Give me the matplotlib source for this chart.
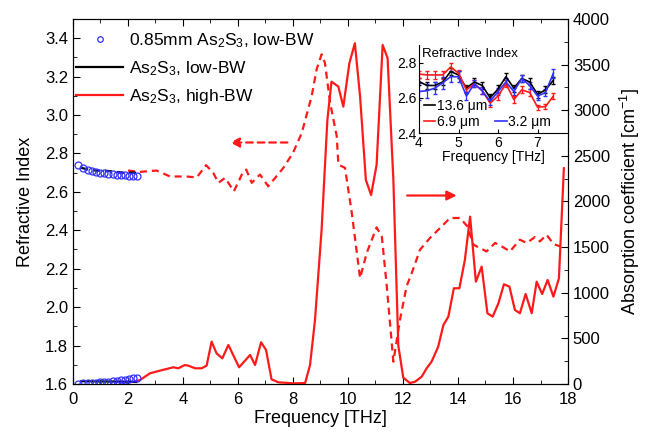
import numpy as np
import matplotlib.pyplot as plt
from matplotlib.lines import Line2D

plt.rcParams['font.family'] = ['Liberation Sans', 'DejaVu Sans']
plt.rcParams['mathtext.fontset'] = 'custom'
plt.rcParams['mathtext.rm'] = 'Liberation Sans'
plt.rcParams['mathtext.it'] = 'Liberation Sans:italic'

# 0.85 mm As2S3, low-BW (circles)
f_circ = [0.19, 0.37, 0.53, 0.68, 0.84, 0.98, 1.14, 1.28, 1.44, 1.59, 1.75, 1.89, 2.05, 2.19, 2.34]
n_circ = [2.74, 2.725, 2.715, 2.71, 2.705, 2.70, 2.70, 2.695, 2.695, 2.69, 2.69, 2.69, 2.685, 2.685, 2.685]
a_circ = [5, 8, 10, 13, 16, 19, 22, 26, 30, 35, 40, 47, 55, 62, 68]

# As2S3 low-BW (black)
f_low = [0.3, 0.6, 0.9, 1.2, 1.5, 1.8, 2.1, 2.3]
n_low = [2.725, 2.715, 2.71, 2.71, 2.705, 2.70, 2.70, 2.70]
a_low = [30, 30, 28, 27, 27, 26, 24, 22]

# As2S3 high-BW refractive index (red dashed)
f_nh = [2.0, 2.44, 3.04, 3.53, 4.13, 4.5, 4.84, 5.1, 5.29, 5.53, 5.85, 6.17, 6.3, 6.5, 6.8,
        7.1, 7.65, 8.0, 8.32, 8.68, 8.86, 9.04, 9.16, 9.35, 9.59, 9.65, 9.89, 10.13, 10.44,
        10.68, 11.04, 11.23, 11.4, 11.65, 11.89, 12.13, 12.32, 12.62, 12.98, 13.35, 13.71,
        14.07, 14.34, 14.56, 15.04, 15.35, 15.59, 15.89, 16.25, 16.5, 16.8, 16.98, 17.22,
        17.47, 17.71]
n_nh = [2.711, 2.704, 2.711, 2.68, 2.68, 2.675, 2.739, 2.699, 2.647, 2.673, 2.603, 2.699, 2.716,
        2.647, 2.69, 2.629, 2.725, 2.803, 2.907, 3.099, 3.238, 3.316, 3.272, 3.064, 2.89, 2.742,
        2.725, 2.499, 2.151, 2.282, 2.415, 2.368, 2.125, 1.716, 1.934, 2.108, 2.178, 2.299, 2.36,
        2.412, 2.464, 2.464, 2.421, 2.325, 2.29, 2.334, 2.316, 2.29, 2.351, 2.334, 2.365, 2.342,
        2.377, 2.329, 2.316]

# As2S3 high-BW absorption (red solid)
f_ah = [2.3, 2.44, 2.8, 3.16, 3.65, 3.83, 4.07, 4.2, 4.44, 4.68, 4.86, 5.04, 5.22, 5.43, 5.65,
        6.04, 6.44, 6.62, 6.84, 7.02, 7.22, 7.47, 8.01, 8.44, 8.62, 8.8, 9.04, 9.25, 9.4, 9.65,
        9.83, 10.05, 10.25, 10.44, 10.65, 10.84, 11.04, 11.26, 11.44, 11.65, 11.83, 12.01,
        12.25, 12.44, 12.68, 12.86, 13.04, 13.28, 13.47, 13.65, 13.85, 14.05, 14.25, 14.44,
        14.65, 14.86, 15.07, 15.26, 15.47, 15.67, 15.87, 16.07, 16.25, 16.46, 16.68, 16.86,
        17.06, 17.26, 17.47, 17.67, 17.85]
a_ah = [30, 44, 117, 146, 183, 172, 208, 200, 172, 172, 201, 464, 336, 281, 427,
        183, 318, 208, 457, 373, 51, 18, 7, 10, 208, 701, 1688, 2893, 3313, 3259,
        3039, 3515, 3734, 3149, 2236, 2071, 2400, 3715, 3570, 2236, 420, 70,
        10, 25, 80, 172, 245, 409, 647, 738, 1049, 1049, 1359, 1834,
        1121, 1286, 775, 738, 884, 1093, 1067, 811, 775, 986, 775, 1121,
        986, 1140, 957, 1158, 2364]

# inset: refractive index for three thicknesses
f_in = [4.0, 4.2, 4.4, 4.6, 4.8, 5.0, 5.2, 5.4, 5.6, 5.8, 6.0, 6.2, 6.4, 6.6, 6.8, 7.0, 7.2, 7.4]
n_136 = [2.693, 2.67, 2.67, 2.69, 2.75, 2.73, 2.655, 2.69, 2.67, 2.60, 2.65, 2.72, 2.655, 2.71,
         2.69, 2.62, 2.645, 2.70]
e_136 = [0.02, 0.02, 0.02, 0.02, 0.02, 0.02, 0.02, 0.02, 0.02, 0.02, 0.02, 0.02, 0.02, 0.02,
         0.02, 0.02, 0.02, 0.02]
n_69 = [2.735, 2.73, 2.73, 2.73, 2.775, 2.74, 2.645, 2.68, 2.64, 2.57, 2.61, 2.68, 2.59, 2.645,
        2.63, 2.547, 2.55, 2.61]
e_69 = [0.02, 0.025, 0.025, 0.025, 0.025, 0.02, 0.02, 0.02, 0.02, 0.02, 0.02, 0.02, 0.02, 0.02,
        0.02, 0.015, 0.015, 0.015]
n_32 = [2.636, 2.64, 2.655, 2.685, 2.72, 2.72, 2.61, 2.68, 2.64, 2.58, 2.636, 2.69, 2.636, 2.71,
        2.67, 2.61, 2.63, 2.74]
e_32 = [0.05, 0.04, 0.035, 0.035, 0.03, 0.03, 0.025, 0.02, 0.02, 0.02, 0.02, 0.02, 0.02, 0.02,
        0.02, 0.02, 0.02, 0.025]

fig = plt.figure(figsize=(6.47, 4.41), dpi=100)
ax = fig.add_axes([0.1128, 0.1293, 0.7651, 0.8277])
ax2 = ax.twinx()

red = '#ff1a1a'
blue = '#3030ff'

# refractive index (left axis)
ax.plot(f_nh, n_nh, color=red, lw=1.6, dashes=(3.2, 2.2))
ax.plot(f_low, n_low, color='black', lw=1.6, dashes=(3.2, 2.2))
ax.plot(f_circ, n_circ, 'o', mfc='none', mec=blue, ms=5, mew=0.9)

# absorption (right axis)
ax2.plot(f_ah, a_ah, color=red, lw=1.6)
ax2.plot(f_low, a_low, color='black', lw=1.6)
ax2.plot(f_circ, a_circ, 'o', mfc='none', mec=blue, ms=5, mew=0.9)

ax.set_xlim(0, 18)
ax.set_ylim(1.6, 3.5)
ax2.set_ylim(0, 4000)
ax.set_xticks(np.arange(0, 19, 2))
ax.set_xticks(np.arange(0, 19, 1), minor=True)
ax.set_yticks(np.arange(1.6, 3.41, 0.2))
ax.set_yticks(np.arange(1.6, 3.51, 0.1), minor=True)
ax.set_yticklabels(['%.1f' % v for v in np.arange(1.6, 3.41, 0.2)])
ax2.set_yticks(np.arange(0, 4001, 500))
ax2.set_yticks(np.arange(0, 4001, 250), minor=True)

ax.tick_params(which='both', direction='in', top=True, labelsize=12)
ax.tick_params(which='major', length=5)
ax.tick_params(which='minor', length=3)
ax.tick_params(axis='x', pad=6)
ax2.tick_params(which='both', direction='in', labelsize=12)
ax2.tick_params(which='major', length=5)
ax2.tick_params(which='minor', length=3)

ax.set_xlabel('Frequency [THz]', fontsize=13, labelpad=2)
ax.set_ylabel('Refractive Index', fontsize=13, labelpad=8)
ax2.set_ylabel('Absorption coefficient [cm$^{-1}$]', fontsize=13, labelpad=6)

# direction arrows
ax.annotate('', xy=(5.6, 2.857), xytext=(7.9, 2.857),
            arrowprops=dict(arrowstyle='-|>', color=red, lw=1.6, linestyle=(0, (3, 2.2)),
                            mutation_scale=14))
ax.annotate('', xy=(14.05, 2.581), xytext=(12.05, 2.581),
            arrowprops=dict(arrowstyle='-|>', color=red, lw=1.6, mutation_scale=14))

handles = [Line2D([], [], ls='none', marker='o', mfc='none', mec=blue, ms=4, mew=0.9),
           Line2D([], [], color='black', lw=1.6),
           Line2D([], [], color=red, lw=1.6)]
labels = ['0.85mm As$_2$S$_3$, low-BW', 'As$_2$S$_3$, low-BW', 'As$_2$S$_3$, high-BW']
ax2.legend(handles, labels, loc='upper left', bbox_to_anchor=(-0.025, 1.01), frameon=False,
           fontsize=12.5, handlelength=2.7, handletextpad=0.35, labelspacing=0.55)

# inset
ins = fig.add_axes([0.6476, 0.6984, 0.2303, 0.1995])
ins.patch.set_alpha(0)
ins.errorbar(f_in, n_136, yerr=e_136, color='black', lw=1.2, elinewidth=0.9, capsize=1.5)
ins.errorbar(f_in, n_69, yerr=e_69, color=red, lw=1.2, elinewidth=0.9, capsize=1.5)
ins.errorbar(f_in, n_32, yerr=e_32, color=blue, lw=1.2, elinewidth=0.9, capsize=1.5)
ins.set_xlim(4, 7.77)
ins.set_ylim(2.4, 2.9)
ins.set_xticks([4, 5, 6, 7])
ins.set_yticks([2.4, 2.6, 2.8])
ins.spines['top'].set_visible(False)
ins.spines['right'].set_visible(False)
ins.tick_params(direction='in', length=3, labelsize=10, pad=2)
ins.set_xlabel('Frequency [THz]', fontsize=10, labelpad=0)
ins.text(0.02, 0.97, 'Refractive Index', transform=ins.transAxes, fontsize=9.5,
         va='top', ha='left')
ih = [Line2D([], [], color='black', lw=1.2),
      Line2D([], [], color=red, lw=1.2),
      Line2D([], [], ls='none'),
      Line2D([], [], color=blue, lw=1.2)]
il = ['13.6 μm', '6.9 μm', '', '3.2 μm']
ins.legend(ih, il, ncol=2, loc='lower left', bbox_to_anchor=(-0.03, -0.06), frameon=False,
           fontsize=10, handlelength=0.8, handletextpad=0.1, columnspacing=0.6,
           labelspacing=0.1, borderpad=0.2)

fig.savefig('out.png', dpi=100)
